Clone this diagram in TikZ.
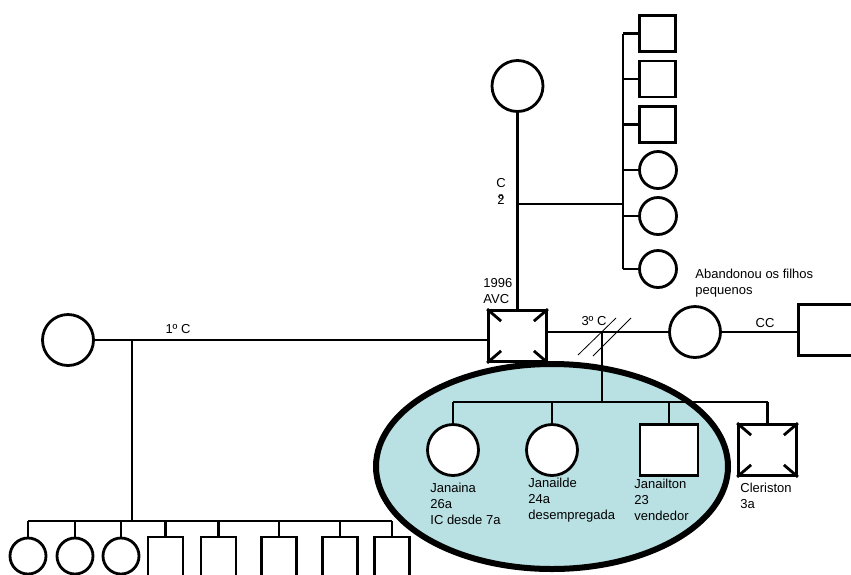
\documentclass[tikz,border=0pt]{standalone}
\usepackage{fontspec}
\setmainfont{Liberation Sans}
\definecolor{lagoa}{RGB}{185,224,227}

\begin{document}
\begin{tikzpicture}[x=1pt, y=-1pt, line width=2.8pt,
	every node/.style={font=\fontsize{13}{16}\selectfont},
	mulher/.style={circle, draw, fill=white, inner sep=0pt, minimum size=51pt},
	homem/.style={rectangle, draw, fill=white, inner sep=0pt, minimum width=58pt, minimum height=51pt},
	pequeno/.style={homem, minimum width=36pt, minimum height=36pt},
	texto/.style={inner sep=0pt, align=left, anchor=west}]
	\useasboundingbox (0,0) rectangle (851,574);
	\clip (0,0) rectangle (851,574);
	\draw[line width=6pt, fill=lagoa] (552,466.5) ellipse [x radius=176, y radius=102.5];
	% segundo casamento
	\node[mulher] (mae2) at (517.5,86) {};
	\node[homem] (avc) at (517.5,336) {};
	\draw (mae2) -- (avc);
	\foreach \n/\y in {f1/33.5, f2/79, f3/124.5}
		\node[pequeno] (\n) at (657.5,\y) {};
	\foreach \n/\y in {f4/170, f5/216, f6/269}
		\node[mulher, minimum size=37pt] (\n) at (658,\y) {};
	\coordinate (c2) at (517.5,204);
	\coordinate (irm2) at (623,204);
	\draw (c2) -- (irm2);
	\draw (f1.west -| irm2) -- (f6.west -| irm2);
	\foreach \n in {f1,f2,f3,f4,f5,f6}
		\draw (\n.west) -- (\n.west -| irm2);
	\node[inner sep=0pt, align=center, anchor=north] (lc2) at (501,177.5) {C\\º\\[-15pt]2};
	\node[texto] (avcnota) at (482,291) {1996\\AVC};
	% primeiro casamento
	\node[mulher] (esp1) at (68,340) {};
	\draw (esp1) -- (avc.west |- esp1);
	\node (lc1) at (178,329) {1º C};
	\coordinate (c1) at (132,340);
	\coordinate (irm1) at (132,521);
	\draw (c1) -- (irm1);
	\foreach \n/\x in {k1/28, k2/75, k3/121}
		\node[mulher, minimum size=36pt] (\n) at (\x,556) {};
	\foreach \n/\x in {k4/165.5, k5/218.5, k6/279, k7/340, k8/392}
		\node[homem, minimum width=35pt, minimum height=40pt] (\n) at (\x,557) {};
	\draw (k1.north |- irm1) -- (k8.north |- irm1);
	\foreach \n in {k1,k2,k3,k4,k5,k6,k7,k8}
		\draw (\n.north) -- (\n.north |- irm1);
	% terceiro casamento
	\node[mulher] (esp3) at (695,332) {};
	\draw (avc.east |- esp3) -- (esp3);
	\node (lc3) at (594,321) {3º C};
	\draw[line width=0.8pt] (578,355) -- (616,318);
	\draw[line width=0.8pt] (593,356) -- (631,318);
	\coordinate (c3) at (602,332);
	\coordinate (irm3) at (602,402);
	\draw (c3) -- (irm3);
	\node[mulher] (janaina) at (453,450) {};
	\node[mulher] (janailde) at (552,450) {};
	\node[homem] (janailton) at (669,450) {};
	\node[homem] (cleriston) at (767.5,450) {};
	\draw (janaina.north |- irm3) -- (cleriston.north |- irm3);
	\foreach \n in {janaina,janailde,janailton,cleriston}
		\draw (\n.north) -- (\n.north |- irm3);
	\foreach \n in {avc,cleriston} {
		\draw (\n.north west) -- ++(14,12);
		\draw (\n.north east) -- ++(-14,12);
		\draw (\n.south west) -- ++(14,-12);
		\draw (\n.south east) -- ++(-14,-12);
	}
	\node[texto] (tjanaina) at (429,504) {Janaina\\26a\\IC desde 7a};
	\node[texto] (tjanailde) at (527,500) {Janailde\\24a\\desempregada};
	\node[texto] (tjanailton) at (633,500) {Janailton\\23\\vendedor};
	\node[texto] (tcleriston) at (739,496) {Cleriston\\3a};
	% quarto
	\node[homem] (esp4) at (827.5,330) {};
	\draw (esp3) -- (esp4.west |- esp3);
	\node (lcc) at (765,323) {CC};
	\node[texto] (nota) at (694,283.5) {Abandonou os filhos\\pequenos};
\end{tikzpicture}
\end{document}
